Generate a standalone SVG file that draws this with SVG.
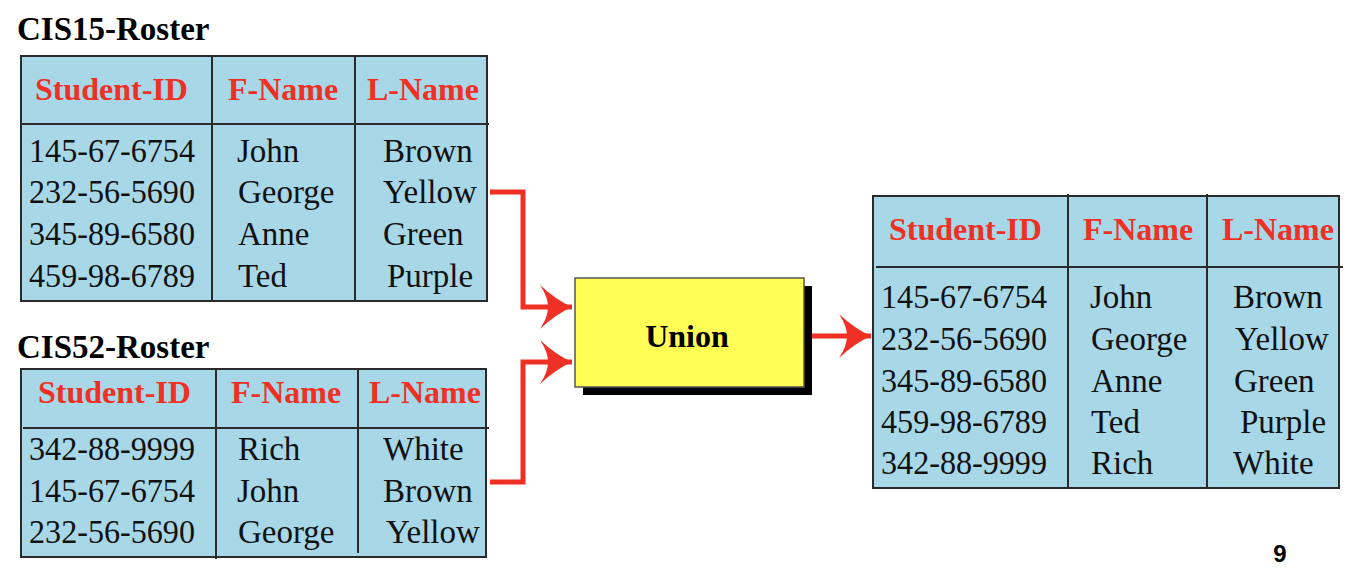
<svg xmlns="http://www.w3.org/2000/svg" width="1358" height="578" viewBox="0 0 1358 578">
<style>
.tbl{fill:#A8D8E8;stroke:#2a2a2a;stroke-width:2}
.ln{stroke:#2a2a2a;stroke-width:2;fill:none}
.title{font-family:"Liberation Serif",serif;font-weight:bold;font-size:33px;fill:#000}
.hd{font-family:"Liberation Serif",serif;font-weight:bold;font-size:32px;fill:#EE3124}
.dt{font-family:"Liberation Serif",serif;font-size:33px;fill:#111}
.conn{fill:none;stroke:#EE3124;stroke-width:5}
.lbl{font-family:"Liberation Serif",serif;font-weight:bold;font-size:32px;fill:#000}
.pg{font-family:"Liberation Sans",sans-serif;font-weight:bold;font-size:24px;fill:#000}
</style>
<defs>
<marker id="ah" markerUnits="userSpaceOnUse" markerWidth="40" markerHeight="50" viewBox="-34 -25 36 50" refX="0" refY="0" orient="auto">
<path d="M0 0 Q-16 -7 -32 -22 Q-24 -10 -24 0 Q-24 10 -32 22 Q-16 7 0 0 Z" fill="#EE3124"/>
</marker>
</defs>

<g id="cis15">
<text class="title" x="17" y="40">CIS15-Roster</text>
<rect class="tbl" x="21" y="56" width="466" height="245"/>
<line class="ln" x1="212" y1="56" x2="212" y2="301"/>
<line class="ln" x1="355" y1="56" x2="355" y2="301"/>
<line class="ln" x1="21" y1="124" x2="489" y2="124"/>
<text class="hd" x="35" y="100">Student-ID</text>
<text class="hd" x="228" y="100">F-Name</text>
<text class="hd" x="367" y="100">L-Name</text>
<text class="dt" x="29" y="162" textLength="166" lengthAdjust="spacingAndGlyphs">145-67-6754</text>
<text class="dt" x="29" y="203" textLength="166" lengthAdjust="spacingAndGlyphs">232-56-5690</text>
<text class="dt" x="29" y="245" textLength="166" lengthAdjust="spacingAndGlyphs">345-89-6580</text>
<text class="dt" x="29" y="287" textLength="166" lengthAdjust="spacingAndGlyphs">459-98-6789</text>
<text class="dt" x="237" y="162">John</text>
<text class="dt" x="238" y="203">George</text>
<text class="dt" x="238" y="245">Anne</text>
<text class="dt" x="238" y="287">Ted</text>
<text class="dt" x="383" y="162">Brown</text>
<text class="dt" x="383" y="203">Yellow</text>
<text class="dt" x="383" y="245">Green</text>
<text class="dt" x="387" y="287">Purple</text>
</g>

<g id="cis52">
<text class="title" x="17" y="358">CIS52-Roster</text>
<rect class="tbl" x="21" y="369" width="465" height="188"/>
<line class="ln" x1="216" y1="369" x2="216" y2="559"/>
<line class="ln" x1="358" y1="369" x2="358" y2="553"/>
<line class="ln" x1="23" y1="428" x2="489" y2="428"/>
<text class="hd" x="38" y="403">Student-ID</text>
<text class="hd" x="231" y="403">F-Name</text>
<text class="hd" x="369" y="403">L-Name</text>
<text class="dt" x="29" y="460" textLength="166" lengthAdjust="spacingAndGlyphs">342-88-9999</text>
<text class="dt" x="29" y="502" textLength="166" lengthAdjust="spacingAndGlyphs">145-67-6754</text>
<text class="dt" x="29" y="543" textLength="166" lengthAdjust="spacingAndGlyphs">232-56-5690</text>
<text class="dt" x="238" y="460">Rich</text>
<text class="dt" x="237" y="502">John</text>
<text class="dt" x="238" y="543">George</text>
<text class="dt" x="383" y="460">White</text>
<text class="dt" x="383" y="502">Brown</text>
<text class="dt" x="386" y="543">Yellow</text>
</g>

<g id="union">
<rect x="583" y="286" width="229" height="109" fill="#000"/>
<rect x="575" y="278" width="229" height="109" fill="#FFFF55" stroke="#555" stroke-width="1.5"/>
<text class="lbl" x="687" y="347" text-anchor="middle">Union</text>
</g>

<g id="result">
<rect class="tbl" x="873" y="196" width="466" height="292"/>
<line class="ln" x1="1068" y1="194" x2="1068" y2="488"/>
<line class="ln" x1="1207" y1="194" x2="1207" y2="488"/>
<line class="ln" x1="876" y1="267" x2="1343" y2="267"/>
<text class="hd" x="889" y="240">Student-ID</text>
<text class="hd" x="1083" y="240">F-Name</text>
<text class="hd" x="1222" y="240">L-Name</text>
<text class="dt" x="881" y="308" textLength="166" lengthAdjust="spacingAndGlyphs">145-67-6754</text>
<text class="dt" x="881" y="350" textLength="166" lengthAdjust="spacingAndGlyphs">232-56-5690</text>
<text class="dt" x="881" y="392" textLength="166" lengthAdjust="spacingAndGlyphs">345-89-6580</text>
<text class="dt" x="881" y="433" textLength="166" lengthAdjust="spacingAndGlyphs">459-98-6789</text>
<text class="dt" x="881" y="474" textLength="166" lengthAdjust="spacingAndGlyphs">342-88-9999</text>
<text class="dt" x="1090" y="308">John</text>
<text class="dt" x="1091" y="350">George</text>
<text class="dt" x="1091" y="392">Anne</text>
<text class="dt" x="1091" y="433">Ted</text>
<text class="dt" x="1091" y="474">Rich</text>
<text class="dt" x="1233" y="308">Brown</text>
<text class="dt" x="1235" y="350">Yellow</text>
<text class="dt" x="1234" y="392">Green</text>
<text class="dt" x="1240" y="433">Purple</text>
<text class="dt" x="1233" y="474">White</text>
</g>

<g id="connectors">
<path class="conn" d="M490 192 H523 V307 H572" marker-end="url(#ah)"/>
<path class="conn" d="M490 482 H523 V362 H572" marker-end="url(#ah)"/>
<path class="conn" d="M812 336 H871" marker-end="url(#ah)"/>
</g>

<text class="pg" x="1280" y="562" text-anchor="middle">9</text>
</svg>
